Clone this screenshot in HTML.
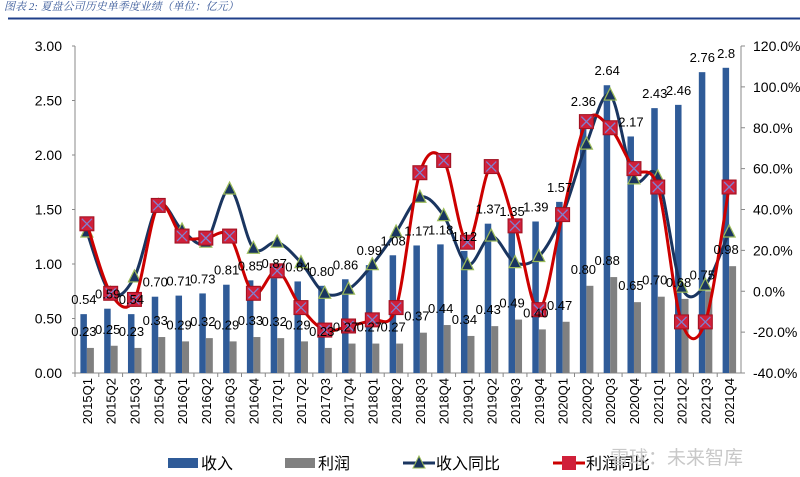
<!DOCTYPE html>
<html><head><meta charset="utf-8"><style>
body{margin:0;background:#fff;}
svg{display:block;font-family:"Liberation Sans","Noto Sans CJK SC",sans-serif;}
</style></head><body>
<svg id="c" width="800" height="477" viewBox="0 0 800 477">
<text x="4" y="10" font-size="11" font-style="italic" fill="#3a5a9a" font-family="'Liberation Serif','Noto Serif CJK SC',serif">图表 2:  夏盘公司历史单季度业绩（单位：亿元）</text>
<line x1="8" y1="18.5" x2="800" y2="18.5" stroke="#1f3f8a" stroke-width="2"/>
<g id="g"></g>
</svg>
<script>
const categories=["2015Q1","2015Q2","2015Q3","2015Q4","2016Q1","2016Q2","2016Q3","2016Q4","2017Q1","2017Q2","2017Q3","2017Q4","2018Q1","2018Q2","2018Q3","2018Q4","2019Q1","2019Q2","2019Q3","2019Q4","2020Q1","2020Q2","2020Q3","2020Q4","2021Q1","2021Q2","2021Q3","2021Q4"];
const revenue=[0.54,0.59,0.54,0.70,0.71,0.73,0.81,0.85,0.87,0.84,0.80,0.86,0.99,1.08,1.17,1.18,1.12,1.37,1.35,1.39,1.57,2.36,2.64,2.17,2.43,2.46,2.76,2.8];
const revenueLabels=["0.54","0.59","0.54","0.70","0.71","0.73","0.81","0.85","0.87","0.84","0.80","0.86","0.99","1.08","1.17","1.18","1.12","1.37","1.35","1.39","1.57","2.36","2.64","2.17","2.43","2.46","2.76","2.8"];
const profit=[0.23,0.25,0.23,0.33,0.29,0.32,0.29,0.33,0.32,0.29,0.23,0.27,0.27,0.27,0.37,0.44,0.34,0.43,0.49,0.40,0.47,0.80,0.88,0.65,0.70,0.68,0.75,0.98];
const profitLabels=["0.23","0.25","0.23","0.33","0.29","0.32","0.29","0.33","0.32","0.29","0.23","0.27","0.27","0.27","0.37","0.44","0.34","0.43","0.49","0.40","0.47","0.80","0.88","0.65","0.70","0.68","0.75","0.98"];
const revenueYoY=[29,-1,7,42,30,24,50,21,24,14,-1,1,13,29,46,37,13,27,14,17,37.5,72,96,55,56,2,3,29];
const profitYoY=[33,-1,-4,42,27,26,27,-1,10,-8,-19,-17,-14,-8,58,64,24,61,32,-9,37.5,83,80,60,51,-15,-15,51];
const leftTicks=[0,0.5,1,1.5,2,2.5,3];
const rightTicks=[-40,-20,0,20,40,60,80,100,120];

const NS="http://www.w3.org/2000/svg";
const g=document.getElementById('g');
const X0=75,X1=741,Y0=373,Y1=46;
const step=(X1-X0)/categories.length;
const cx=i=>X0+step*(i+0.5);
const yL=v=>Y0-(v-0)/3*(Y0-Y1);
const yR=v=>Y0-(v+40)/160*(Y0-Y1);
function el(t,a,p){const e=document.createElementNS(NS,t);for(const k in a)e.setAttribute(k,a[k]);(p||g).appendChild(e);return e;}

// axes
let e=el('line',{x1:X0,y1:Y1,x2:X0,y2:Y0,stroke:'#888'});


e=el('line',{x1:X1,y1:Y1,x2:X1,y2:Y0,stroke:'#888'});


e=el('line',{x1:X0,y1:Y0,x2:X1,y2:Y0,stroke:'#888'});


leftTicks.forEach(v=>{
  el('line',{x1:X0-3,y1:yL(v),x2:X0,y2:yL(v),stroke:'#888'});
  const t=el('text',{x:X0-13,y:yL(v)+5,'font-size':14,'text-anchor':'end',fill:'#000'});
  t.textContent=v.toFixed(2);
  
  
});
rightTicks.forEach(v=>{
  el('line',{x1:X1,y1:yR(v),x2:X1+4,y2:yR(v),stroke:'#888'});
  const t=el('text',{x:X1+12,y:yR(v)+5,'font-size':14,fill:'#000'});
  t.textContent=v.toFixed(1)+'%';
  
  
});
categories.forEach((c,i)=>{
  el('line',{x1:X0+step*i,y1:Y0,x2:X0+step*i,y2:Y0+4,stroke:'#888'});
  const t=el('text',{x:0,y:0,'font-size':13,'text-anchor':'end',transform:`translate(${cx(i)+5},${Y0+5}) rotate(-90)`});
  t.textContent=c;
  
  
});
// bars
revenue.forEach((v,i)=>{
  const r=el('rect',{x:cx(i)-6.5,y:yL(v),width:6.5,height:Y0-yL(v),fill:'#2f5b98'});
  
  
});
profit.forEach((v,i)=>{
  const r=el('rect',{x:cx(i),y:yL(v),width:7,height:Y0-yL(v),fill:'#808080'});
  
  
});
function smooth(pts){
  let d=`M${pts[0][0]},${pts[0][1]}`;
  for(let i=0;i<pts.length-1;i++){
    const p0=pts[i-1]||pts[i],p1=pts[i],p2=pts[i+1],p3=pts[i+2]||p2;
    const t=1/6;
    d+=` C${p1[0]+(p2[0]-p0[0])*t},${p1[1]+(p2[1]-p0[1])*t} ${p2[0]-(p3[0]-p1[0])*t},${p2[1]-(p3[1]-p1[1])*t} ${p2[0]},${p2[1]}`;
  }
  return d;
}
// revenue yoy line
const rp=revenueYoY.map((v,i)=>[cx(i),yR(v)]);
e=el('path',{d:smooth(rp),fill:'none',stroke:'#1a3560','stroke-width':3});


rp.forEach(p=>{
  const m=el('polygon',{points:`${p[0]},${p[1]-7} ${p[0]-6},${p[1]+5} ${p[0]+6},${p[1]+5}`,fill:'#1a3560',stroke:'#9bbb59','stroke-width':1.2});
  
  
});
// profit yoy line
const pp=profitYoY.map((v,i)=>[cx(i),yR(v)]);
e=el('path',{d:smooth(pp),fill:'none',stroke:'#cc0000','stroke-width':3});


pp.forEach(p=>{
  const m=el('rect',{x:p[0]-7,y:p[1]-7,width:14,height:14,fill:'#d0203a',stroke:'#a01020','stroke-width':1});
  
  
  el('path',{d:`M${p[0]-5},${p[1]-5}L${p[0]+5},${p[1]+5}M${p[0]+5},${p[1]-5}L${p[0]-5},${p[1]+5}`,stroke:'#8080d0','stroke-width':1.3});
});
// data labels
revenue.forEach((v,i)=>{
  const t=el('text',{x:cx(i)-3,y:yL(v)-10,'font-size':13,'text-anchor':'middle'});
  t.textContent=revenueLabels[i];
  
  
});
profit.forEach((v,i)=>{
  const t=el('text',{x:cx(i)-3,y:yL(v)-12,'font-size':13,'text-anchor':'middle'});
  t.textContent=profitLabels[i];
  
  
});
// legend
const L=[[168,'收入','bar','#2f5b98'],[285,'利润','bar','#808080'],[403,'收入同比','tri'],[553,'利润同比','sq']];
L.forEach(([x,lab,k,c])=>{
  const lg=el('g',{});
  
  
  const y=463;
  if(k==='bar') el('rect',{x:x,y:y-5,width:30,height:10,fill:c},lg);
  else if(k==='tri'){el('line',{x1:x,y1:y,x2:x+32,y2:y,stroke:'#1a3560','stroke-width':3},lg);el('polygon',{points:`${x+16},${y-7} ${x+10},${y+5} ${x+22},${y+5}`,fill:'#1a3560',stroke:'#9bbb59'},lg);}
  else {el('line',{x1:x,y1:y,x2:x+32,y2:y,stroke:'#cc0000','stroke-width':3},lg);el('rect',{x:x+9,y:y-7,width:14,height:14,fill:'#d0203a'},lg);}
  const t=el('text',{x:x+33,y:y+6,'font-size':16},lg);
  t.textContent=lab;
});
const w=el('text',{x:610,y:464,'font-size':19,fill:'#c8c8c8'});
w.textContent='雪球：未来智库';


</script>
</body></html>
